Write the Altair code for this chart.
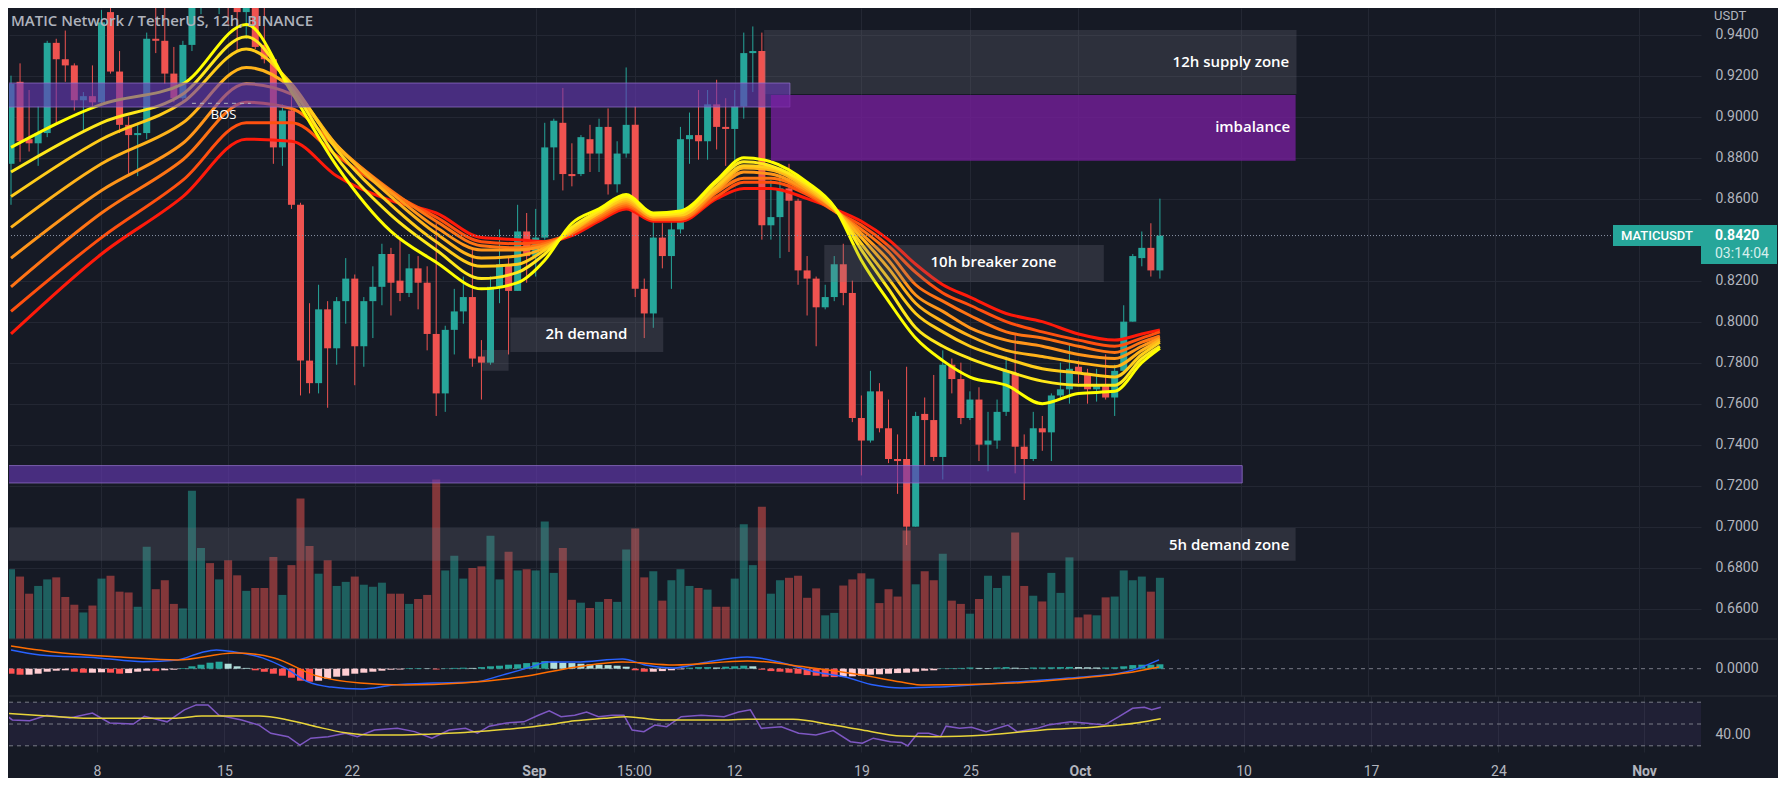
import json
import altair as alt
import pandas as pd

# ---------------- data (12h candles, first = 2022-08-03 00:00) ----------------
OPEN = [0.877, 0.917, 0.889, 0.887, 0.892, 0.936, 0.928, 0.925, 0.908, 0.910,
        0.907, 0.951, 0.922, 0.896, 0.891, 0.892, 0.938, 0.937, 0.921, 0.909,
        0.935, 0.968, 0.975, 0.962, 0.970, 0.958, 0.951, 0.958, 0.935, 0.928,
        0.885, 0.903, 0.857, 0.781, 0.770, 0.806, 0.787, 0.810, 0.821, 0.788,
        0.810, 0.817, 0.833, 0.820, 0.814, 0.826, 0.819, 0.794, 0.765, 0.796,
        0.805, 0.812, 0.783, 0.780, 0.817, 0.828, 0.815, 0.844, 0.832, 0.841,
        0.885, 0.897, 0.872, 0.872, 0.889, 0.882, 0.895, 0.867, 0.882, 0.896,
        0.816, 0.804, 0.841, 0.832, 0.845, 0.889, 0.891, 0.888, 0.906, 0.895,
        0.894, 0.905, 0.931, 0.932, 0.847, 0.851, 0.865, 0.859, 0.825, 0.821,
        0.807, 0.812, 0.828, 0.814, 0.753, 0.742, 0.766, 0.748, 0.733, 0.733,
        0.700, 0.755, 0.752, 0.734, 0.779, 0.772, 0.753, 0.762, 0.740, 0.742,
        0.756, 0.775, 0.739, 0.733, 0.748, 0.746, 0.764, 0.767, 0.778, 0.775,
        0.767, 0.769, 0.763, 0.776, 0.800, 0.831, 0.836, 0.825]
HIGH = [0.920, 0.926, 0.913, 0.905, 0.937, 0.938, 0.942, 0.926, 0.912, 0.925,
        0.952, 0.953, 0.932, 0.900, 0.897, 0.941, 0.953, 0.962, 0.934, 0.937,
        0.975, 0.985, 0.990, 0.980, 0.978, 0.966, 0.962, 0.968, 0.955, 0.929,
        0.906, 0.910, 0.858, 0.809, 0.818, 0.810, 0.812, 0.831, 0.823, 0.812,
        0.827, 0.838, 0.836, 0.840, 0.833, 0.832, 0.827, 0.848, 0.798, 0.816,
        0.822, 0.835, 0.791, 0.822, 0.845, 0.832, 0.857, 0.853, 0.855, 0.897,
        0.899, 0.914, 0.887, 0.891, 0.896, 0.899, 0.904, 0.888, 0.924, 0.905,
        0.821, 0.852, 0.848, 0.850, 0.895, 0.902, 0.913, 0.913, 0.918, 0.909,
        0.913, 0.941, 0.944, 0.941, 0.869, 0.874, 0.877, 0.860, 0.832, 0.822,
        0.818, 0.832, 0.838, 0.820, 0.764, 0.776, 0.770, 0.762, 0.745, 0.778,
        0.756, 0.763, 0.774, 0.786, 0.782, 0.780, 0.766, 0.768, 0.756, 0.762,
        0.783, 0.794, 0.745, 0.756, 0.754, 0.765, 0.780, 0.789, 0.781, 0.777,
        0.777, 0.784, 0.779, 0.808, 0.833, 0.844, 0.848, 0.860]
LOW = [0.857, 0.878, 0.883, 0.876, 0.890, 0.897, 0.917, 0.903, 0.893, 0.905,
       0.906, 0.921, 0.892, 0.871, 0.871, 0.889, 0.931, 0.916, 0.907, 0.907,
       0.932, 0.950, 0.955, 0.950, 0.945, 0.932, 0.938, 0.933, 0.926, 0.877,
       0.876, 0.855, 0.764, 0.765, 0.765, 0.758, 0.779, 0.799, 0.769, 0.778,
       0.792, 0.808, 0.803, 0.810, 0.812, 0.806, 0.786, 0.754, 0.756, 0.784,
       0.799, 0.778, 0.762, 0.779, 0.809, 0.784, 0.815, 0.819, 0.822, 0.840,
       0.869, 0.864, 0.866, 0.871, 0.873, 0.873, 0.862, 0.863, 0.880, 0.812,
       0.792, 0.797, 0.826, 0.816, 0.843, 0.877, 0.879, 0.879, 0.884, 0.876,
       0.872, 0.899, 0.912, 0.840, 0.840, 0.831, 0.834, 0.818, 0.803, 0.788,
       0.806, 0.810, 0.808, 0.751, 0.725, 0.741, 0.746, 0.731, 0.716, 0.691,
       0.700, 0.730, 0.732, 0.723, 0.765, 0.750, 0.752, 0.732, 0.727, 0.738,
       0.754, 0.726, 0.713, 0.732, 0.737, 0.732, 0.763, 0.760, 0.770, 0.760,
       0.761, 0.762, 0.754, 0.776, 0.800, 0.827, 0.822, 0.821]
CLOSE = [0.916, 0.888, 0.887, 0.892, 0.936, 0.928, 0.925, 0.908, 0.910, 0.907,
         0.946, 0.922, 0.896, 0.891, 0.892, 0.938, 0.937, 0.921, 0.909, 0.935,
         0.968, 0.975, 0.962, 0.970, 0.958, 0.951, 0.958, 0.934, 0.928, 0.885,
         0.903, 0.857, 0.781, 0.770, 0.806, 0.787, 0.810, 0.821, 0.788, 0.810,
         0.817, 0.833, 0.819, 0.814, 0.826, 0.819, 0.794, 0.765, 0.796, 0.805,
         0.812, 0.782, 0.780, 0.817, 0.828, 0.815, 0.844, 0.832, 0.841, 0.885,
         0.898, 0.872, 0.871, 0.890, 0.882, 0.895, 0.867, 0.882, 0.896, 0.816,
         0.804, 0.841, 0.832, 0.845, 0.889, 0.891, 0.888, 0.906, 0.895, 0.894,
         0.905, 0.931, 0.932, 0.847, 0.851, 0.865, 0.859, 0.825, 0.821, 0.807,
         0.812, 0.828, 0.814, 0.753, 0.742, 0.766, 0.748, 0.733, 0.732, 0.700,
         0.754, 0.752, 0.734, 0.779, 0.772, 0.753, 0.762, 0.740, 0.742, 0.756,
         0.776, 0.739, 0.733, 0.748, 0.746, 0.764, 0.767, 0.777, 0.775, 0.767,
         0.769, 0.763, 0.776, 0.800, 0.832, 0.836, 0.825, 0.842]
VOLUME = [17.1, 15.3, 11.1, 13.0, 14.6, 15.1, 10.3, 8.4, 6.5, 8.2, 14.8, 15.5, 11.6, 11.4, 7.9, 22.6,
          12.2, 14.4, 8.6, 7.5, 36.3, 22.3,
          18.6, 14.6, 19.3, 15.6, 11.8, 12.5, 12.5, 20.1, 10.8, 18.1, 34.4, 22.8, 16.0, 19.3, 13.0,
          14.0, 15.3, 13.3, 12.8, 13.8, 11.1,
          11.1, 8.6, 9.8, 10.8, 39.1, 16.8, 20.4, 14.8, 17.4, 17.8, 25.3, 14.6, 21.4, 16.8, 17.1,
          16.8, 28.8, 16.2, 22.3, 9.6, 8.9,
          7.6, 9.1, 9.8, 9.1, 21.9, 27.1, 15.1, 16.6, 9.4, 14.4, 17.1, 13.0, 12.5, 12.1, 7.9, 7.9,
          14.8, 28.1, 18.1, 32.4, 11.1, 14.4,
          15.0, 15.5, 10.1, 12.4, 5.8, 6.4, 13.1, 14.6, 16.1, 14.8, 8.8, 12.2, 10.4, 26.6, 13.4,
          16.6, 14.4, 20.9, 9.4, 8.6, 6.2, 9.8,
          15.5, 12.5, 15.5, 26.1, 13.0, 10.6, 9.2, 16.2, 11.3, 20.0, 5.3, 6.0, 5.8, 10.2, 10.4,
          16.8, 14.4, 15.3, 11.6, 15.0]

# EMA ribbon (8 lines, fastest first), read at these candle indices
RIBBON_IDX = [0, 10, 19, 26, 31, 36, 42, 47, 52, 56, 59, 62, 65, 68, 71, 74, 78, 81, 84, 88,
              91, 94, 97, 100, 103, 106, 110, 114, 118, 122, 125, 127]
EMA1 = [0.885, 0.906, 0.916, 0.945, 0.912, 0.876, 0.844, 0.829, 0.816, 0.819, 0.830, 0.848, 0.855, 0.862,
        0.853, 0.854, 0.869, 0.880, 0.878, 0.868, 0.856, 0.830, 0.810, 0.792, 0.781, 0.773, 0.769, 0.760,
        0.765, 0.766, 0.780, 0.787]
EMA2 = [0.873, 0.897, 0.911, 0.939, 0.914, 0.880, 0.852, 0.835, 0.821, 0.824, 0.833, 0.846, 0.854, 0.861,
        0.852, 0.853, 0.868, 0.878, 0.876, 0.867, 0.856, 0.835, 0.816, 0.797, 0.788, 0.782, 0.776, 0.771,
        0.769, 0.769, 0.782, 0.788]
EMA3 = [0.861, 0.889, 0.907, 0.933, 0.916, 0.884, 0.857, 0.839, 0.827, 0.828, 0.835, 0.845, 0.853, 0.860,
        0.852, 0.852, 0.866, 0.876, 0.875, 0.866, 0.855, 0.838, 0.821, 0.804, 0.795, 0.788, 0.782, 0.777,
        0.775, 0.773, 0.784, 0.790]
EMA4 = [0.846, 0.877, 0.897, 0.924, 0.914, 0.886, 0.861, 0.843, 0.831, 0.832, 0.836, 0.844, 0.853, 0.859,
        0.851, 0.852, 0.865, 0.875, 0.874, 0.865, 0.855, 0.841, 0.826, 0.809, 0.800, 0.793, 0.786, 0.783,
        0.780, 0.778, 0.786, 0.791]
EMA5 = [0.831, 0.864, 0.887, 0.916, 0.911, 0.886, 0.863, 0.846, 0.835, 0.835, 0.837, 0.844, 0.852, 0.858,
        0.851, 0.851, 0.864, 0.873, 0.872, 0.864, 0.855, 0.843, 0.830, 0.813, 0.805, 0.797, 0.791, 0.788,
        0.784, 0.782, 0.788, 0.792]
EMA6 = [0.817, 0.853, 0.879, 0.907, 0.904, 0.885, 0.864, 0.849, 0.837, 0.836, 0.838, 0.843, 0.851, 0.857,
        0.850, 0.850, 0.863, 0.870, 0.870, 0.863, 0.854, 0.845, 0.834, 0.818, 0.810, 0.803, 0.795, 0.792,
        0.788, 0.785, 0.790, 0.793]
EMA7 = [0.805, 0.841, 0.869, 0.897, 0.897, 0.881, 0.863, 0.851, 0.839, 0.838, 0.839, 0.843, 0.850, 0.856,
        0.850, 0.850, 0.861, 0.868, 0.868, 0.862, 0.854, 0.847, 0.837, 0.824, 0.814, 0.808, 0.800, 0.795,
        0.791, 0.788, 0.792, 0.795]
EMA8 = [0.794, 0.833, 0.861, 0.889, 0.888, 0.871, 0.859, 0.853, 0.841, 0.840, 0.839, 0.842, 0.849, 0.855,
        0.849, 0.849, 0.860, 0.865, 0.865, 0.860, 0.855, 0.849, 0.840, 0.828, 0.818, 0.812, 0.804, 0.800,
        0.794, 0.791, 0.794, 0.796]

# MACD pane
MACD_IDX = [0, 3.2, 9.6, 14.6, 18.4, 20.9, 22.7, 24.7, 27.8, 30.3, 32.9, 35.4, 38.6, 42.3, 46.7, 51.2,
            54.3, 57.5, 59.3, 62.5, 67.6, 70.1, 73.3, 76.4, 81.4, 85.3, 89, 92.2, 95.4, 98.4, 102.1,
            110.8, 116.9, 123.2, 126.9]
MACD_VAL = [0.0094, 0.0069, 0.0054, 0.0035, 0.0044, 0.0079, 0.0094, 0.0084, 0.0054, 0.0004, -0.0067,
            -0.0092, -0.0102, -0.0082, -0.0072, -0.0067, -0.0032, 0.0009, 0.0034, 0.0034, 0.0049,
            0.0019, 0.0004, 0.0029, 0.0059, 0.0029, -0.0017, -0.0042, -0.0082, -0.0097, -0.0092,
            -0.0067, -0.0047, -0.0017, 0.0044]
SIGNAL_IDX = [0, 5.7, 12.1, 18.4, 24.7, 29.1, 33.5, 38.6, 43.6, 49.9, 56.3, 62.5, 67.6, 73.3, 81.4,
              87.8, 94.1, 98.4, 100.9, 110.8, 116.9, 123.2, 126.9]
SIGNAL_VAL = [0.0114, 0.0079, 0.0059, 0.0044, 0.0079, 0.0054, -0.0032, -0.0072, -0.0082, -0.0072,
              -0.0042, 0.0009, 0.0034, 0.0019, 0.0039, 0.0009, -0.0032, -0.0067, -0.0082, -0.0072,
              -0.0052, -0.0022, 0.0009]
HIST = [-0.0025, -0.003, -0.003, -0.0025, -0.0015, -0.001, -0.0008, -0.0015, -0.002, -0.002,
        -0.0018, -0.002, -0.0025, -0.0022, -0.0015, -0.001, -0.0012, -0.0008, -0.0005, 0.0003,
        0.0012, 0.002, 0.003, 0.0035, 0.0025, 0.0012, 0.0004, -0.0008, -0.0015, -0.0025,
        -0.0035, -0.0045, -0.006, -0.0065, -0.006, -0.005, -0.004, -0.0035, -0.0025, -0.002,
        -0.0015, -0.001, -0.0005, -0.0004, 0.0003, 0.0003, 0.0002, -0.0004, 0.0002, 0.0004,
        0.0005, 0.0004, 0.0008, 0.0012, 0.0015, 0.002, 0.0022, 0.0028, 0.0032, 0.0038,
        0.0035, 0.003, 0.0028, 0.0025, 0.0022, 0.002, 0.0018, 0.0015, 0.001, -0.0008,
        -0.0015, -0.0015, -0.0012, -0.0008, -0.0003, 0.0005, 0.0008, 0.0008, 0.0006, 0.001,
        0.0012, 0.0015, 0.0012, -0.0005, -0.0012, -0.0015, -0.002, -0.0025, -0.0032, -0.0035,
        -0.004, -0.0042, -0.004, -0.0038, -0.0035, -0.003, -0.0028, -0.0025, -0.0022, -0.002,
        -0.0015, -0.001, -0.0008, 0.0002, 0.0003, 0.0004, 0.0006, 0.0004, 0.0003, 0.0006,
        0.0008, 0.0005, 0.0003, 0.0006, 0.0006, 0.0007, 0.0008, 0.0009, 0.0008, 0.0007,
        0.0006, 0.0006, 0.0007, 0.0012, 0.0018, 0.002, 0.002, 0.0022]

# RSI pane
RSI_IDX = [0, 0.7, 2.6, 4.5, 7, 9.5, 11.4, 14, 15.2, 17.7, 19.6, 20.9, 22.2, 23.4, 25.9, 27.8, 29.1,
           31, 32.3, 33.5, 35.4, 37.3, 38.6, 40.5, 43, 44.9, 46.8, 48.7, 50.5, 51.8, 53.1, 55, 56.9,
           58.5, 59.7, 61, 62.5, 63.8, 65.1, 66.6, 67.9, 68.8, 70.1, 71.3, 72.6, 74.2, 76.4, 78.9,
           80.5, 81.8, 83, 85.2, 87.1, 89, 90.9, 92.8, 94.1, 95.3, 97.2, 98.4, 99.1, 100.2, 101.4,
           102.7, 103.3, 104.8, 106.1, 107.7, 110.1, 111.1, 113.3, 114.5, 117, 118.8, 120.7, 122.3,
           123.8, 125.1, 125.9, 126.9]
RSI_VAL = [58, 53.7, 53, 58, 55.5, 60, 51, 50, 57, 52, 63, 67.5, 67.5, 58, 53.7, 49, 41.5, 38.4, 30.7,
           37, 38.4, 41.5, 38.4, 44.5, 46, 43, 37, 44.5, 46, 41.5, 48, 51, 52, 58, 62, 56.7, 58, 61,
           56.7, 58, 58, 44.5, 43, 49, 47.5, 56.7, 58, 56.7, 61, 63, 46, 47.5, 41.5, 40, 44, 33.8,
           32.3, 37, 33.8, 33, 30, 41.5, 41.5, 38.4, 48, 46, 47, 43, 49, 43, 46, 49, 52, 50.6, 49,
           56.7, 64.4, 65.3, 63, 65.3]
RSI_MA_IDX = [0, 5.8, 8.9, 15.2, 18.4, 21.5, 27.8, 31, 34.1, 37.3, 40.5, 43.6, 46.8, 49.9, 53.1, 56.2,
              59.4, 62.5, 65.7, 68.2, 72, 78.3, 81.5, 86.5, 90.9, 94.1, 98.4, 102.1, 107.7, 113.9,
              120.1, 124.4, 126.9]
RSI_MA_VAL = [59.8, 56.7, 55.2, 55.2, 55.2, 57.3, 57.3, 53.7, 47.5, 42, 39.9, 39.9, 40.8, 42, 43.9, 46,
              49, 53, 55.2, 56.7, 53.7, 53.7, 54.3, 54.3, 49, 44.5, 39, 38.4, 39.9, 44.5, 47.5, 51.2,
              54.9]

# drawn zones (candle index span, price span)
ZONE_NAME = ["bos", "supply12h", "imbalance", "breaker10h", "demand2h_label", "demand2h",
             "lower_band", "demand5h"]
ZONE_KIND = ["purple", "gray", "imbalance", "gray", "gray", "gray", "purple", "gray"]
ZONE_FROM = [-1, 83.25, 84.0, 89.9, 55.2, 52.1, -1, -1]
ZONE_TO = [86.1, 142.1, 142.0, 120.8, 72.1, 55.0, 136.1, 142.0]
ZONE_TOP = [0.9164, 0.9423, 0.9106, 0.8374, 0.8020, 0.7862, 0.7298, 0.6994]
ZONE_BOTTOM = [0.9047, 0.9110, 0.8785, 0.8194, 0.7852, 0.7761, 0.7213, 0.6834]

LABEL_TEXT = ["12h supply zone", "imbalance", "5h demand zone", "10h breaker zone", "2h demand", "BOS"]
LABEL_IDX = [141.3, 141.4, 141.3, 108.6, 63.6, 23.5]
LABEL_PRICE = [0.9267, 0.8950, 0.6910, 0.8291, 0.7940, 0.9009]
LABEL_ALIGN = ["right", "right", "right", "center", "center", "center"]

BOS_FROM, BOS_TO, BOS_PRICE = 20.0, 26.5, 0.9065
LAST_PRICE = 0.842
COUNTDOWN = "03:14:04"

TICK_IDX = [10, 24, 38, 58, 69, 80, 94, 106, 118, 136, 150, 164, 180]
TICK_LABEL = ["8", "15", "22", "Sep", "15:00", "12", "19", "25", "Oct", "10", "17", "24", "Nov"]
# 0.8400 is hidden behind the last-price label in the reference
PRICE_TICKS = [0.66, 0.68, 0.70, 0.72, 0.74, 0.76, 0.78, 0.80, 0.82, 0.86, 0.88, 0.90, 0.92, 0.94]

TITLE = "MATIC Network / TetherUS, 12h, BINANCE"

# ---------------- styling ----------------
BG = "#161a25"
GRID = "#232733"
LBL = "#b2b5be"
FONT = "Roboto"
TFONT = "Open Sans"
UP, DOWN = "#26a69a", "#ef5350"
RIBBON_COLORS = ["#ffff00", "#ffe81a", "#ffcc1a", "#ffb31a", "#ff951a", "#ff7314", "#ff500f", "#ff1a0a"]

W = 1692
H_PRICE, H_MACD, H_RSI = 631, 57, 56
X_DOM = [0.33, 186.26]
PRICE_DOM = [0.6452, 0.9530]
VOL_DOM = [0, 154.6]
MACD_DOM = [-0.01365, 0.01485]
RSI_DOM = [24.31, 75.69]

# ---------------- frames ----------------
N = len(CLOSE)
candles = pd.DataFrame({"idx": list(range(N)), "open": OPEN, "high": HIGH, "low": LOW,
                        "close": CLOSE, "volume": VOLUME})
candles["dir"] = ["up" if c >= o else "down" for o, c in zip(OPEN, CLOSE)]

emas = [EMA1, EMA2, EMA3, EMA4, EMA5, EMA6, EMA7, EMA8]

zones = pd.DataFrame({"name": ZONE_NAME, "zkind": ZONE_KIND, "x1": ZONE_FROM, "x2": ZONE_TO,
                      "top": ZONE_TOP, "bottom": ZONE_BOTTOM})
labels = pd.DataFrame({"text": LABEL_TEXT, "idx": LABEL_IDX, "price": LABEL_PRICE, "al": LABEL_ALIGN})

hcol = []
prev = 0.0
for h in HIST:
    if h >= 0:
        hcol.append("#26a69a" if h >= prev else "#b2dfdb")
    else:
        hcol.append("#ff5252" if h < prev else "#ffcdd2")
    prev = h
hist = pd.DataFrame({"idx": list(range(N)), "h": HIST, "c": hcol})
macd = pd.DataFrame({"idx": MACD_IDX, "v": MACD_VAL})
sig = pd.DataFrame({"idx": SIGNAL_IDX, "v": SIGNAL_VAL})
rsi = pd.DataFrame({"idx": RSI_IDX, "v": RSI_VAL})
rsima = pd.DataFrame({"idx": RSI_MA_IDX, "v": RSI_MA_VAL})

# ---------------- scales / axes ----------------
XS = alt.Scale(domain=X_DOM, nice=False, zero=False)
X_HID = alt.Axis(values=TICK_IDX, labels=False, ticks=False, domain=False, grid=True,
                 gridColor=GRID, title=None)
label_expr = "%s[indexof(%s, datum.value)]" % (json.dumps(TICK_LABEL), json.dumps(TICK_IDX))
X_TIME = alt.Axis(values=TICK_IDX, labelExpr=label_expr, ticks=False, domain=False, grid=True,
                  gridColor=GRID, title=None, labelColor=LBL, labelFont=FONT, labelFontSize=14,
                  labelPadding=12, labelOverlap=False, labelFlush=False,
                  labelFontWeight={"condition": {"test": "datum.value == 58 || datum.value == 118 || datum.value == 180",
                                                 "value": "bold"}, "value": "normal"})
PS = alt.Scale(domain=PRICE_DOM, nice=False, zero=False)
P_AX = alt.Axis(orient="right", values=PRICE_TICKS, format=".4f", ticks=False, domain=False,
                grid=True, gridColor=GRID, title=None, labelColor=LBL, labelFont=FONT,
                labelFontSize=14, labelPadding=14)


def xq(field, axis=X_HID):
    return alt.X(f"{field}:Q", scale=XS, axis=axis)


def yp(field):
    return alt.Y(f"{field}:Q", scale=PS, axis=P_AX)


dir_color = alt.Color("dir:N", scale=alt.Scale(domain=["up", "down"], range=[UP, DOWN]), legend=None)

# ---------------- price panel ----------------
volume = alt.Chart(candles).mark_bar(size=8, opacity=0.5, clip=True).encode(
    x=xq("idx"),
    y=alt.Y("volume:Q", scale=alt.Scale(domain=VOL_DOM, nice=False, zero=True), axis=None),
    color=dir_color)

wicks = alt.Chart(candles).mark_rule(clip=True, strokeWidth=1).encode(
    x=xq("idx"), y=yp("low"), y2="high", color=dir_color)
bodies = alt.Chart(candles).mark_bar(size=7, clip=True).encode(
    x=xq("idx"), y=yp("open"), y2="close", color=dir_color)

ribbon_layers = []
for k in reversed(range(8)):
    df = pd.DataFrame({"idx": RIBBON_IDX, "price": emas[k]})
    ribbon_layers.append(alt.Chart(df).mark_line(color=RIBBON_COLORS[k], strokeWidth=3,
                                                  interpolate="monotone", clip=True).encode(
        x=xq("idx"), y=yp("price")))

zone_gray = alt.Chart(zones[zones["zkind"] == "gray"]).mark_rect(
    fill="#787b86", fillOpacity=0.24, clip=True).encode(
    x=xq("x1"), x2="x2", y=yp("top"), y2="bottom")
zone_purple = alt.Chart(zones[zones["zkind"] == "purple"]).mark_rect(
    fill="#673ab7", fillOpacity=0.62, stroke="#9575cd", strokeOpacity=0.7, strokeWidth=1,
    clip=True).encode(x=xq("x1"), x2="x2", y=yp("top"), y2="bottom")
zone_imb = alt.Chart(zones[zones["zkind"] == "imbalance"]).mark_rect(
    fill="#7b1fa2", fillOpacity=0.75, clip=True).encode(
    x=xq("x1"), x2="x2", y=yp("top"), y2="bottom")

bos_line = alt.Chart(pd.DataFrame({"x1": [BOS_FROM], "x2": [BOS_TO], "price": [BOS_PRICE]})).mark_rule(
    color="#b2b5be", strokeDash=[4, 4], strokeWidth=1).encode(x=xq("x1"), x2="x2", y=yp("price"))

txt_right = alt.Chart(labels[labels["al"] == "right"]).mark_text(
    align="right", baseline="middle", color="#ffffff", font=TFONT, fontSize=15, fontWeight=600).encode(
    x=xq("idx"), y=yp("price"), text="text:N")
txt_center = alt.Chart(labels[(labels["al"] == "center") & (labels["text"] != "BOS")]).mark_text(
    align="center", baseline="middle", color="#ffffff", font=TFONT, fontSize=15, fontWeight=600).encode(
    x=xq("idx"), y=yp("price"), text="text:N")
txt_bos = alt.Chart(labels[labels["text"] == "BOS"]).mark_text(
    align="center", baseline="middle", color="#ffffff", font=TFONT, fontSize=13).encode(
    x=xq("idx"), y=yp("price"), text="text:N")

last = pd.DataFrame({"price": [LAST_PRICE], "top": [LAST_PRICE + 0.0051], "bottom": [LAST_PRICE - 0.0051],
                     "bottom2": [LAST_PRICE - 0.0139], "cd_price": [LAST_PRICE - 0.0089],
                     "sym": ["MATICUSDT"], "lbl": [f"{LAST_PRICE:.4f}"], "cd": [COUNTDOWN]})
price_line = alt.Chart(last).mark_rule(color="#8a93a6", strokeDash=[1, 2], strokeWidth=1).encode(
    y=yp("price"))
sym_box = alt.Chart(last).mark_rect(color=UP).encode(
    x=alt.value(1604), x2=alt.value(1692), y=yp("top"), y2="bottom")
sym_txt = alt.Chart(last).mark_text(align="center", baseline="middle", color="#ffffff", font=FONT,
                                    fontSize=13, fontWeight=500).encode(
    x=alt.value(1648), y=yp("price"), text="sym:N")
axis_box = alt.Chart(last).mark_rect(color=UP).encode(
    x=alt.value(1692), x2=alt.value(1768), y=yp("top"), y2="bottom2")
axis_txt = alt.Chart(last).mark_text(align="left", baseline="middle", color="#ffffff", font=FONT,
                                     fontSize=14, fontWeight="bold").encode(
    x=alt.value(1706), y=yp("price"), text="lbl:N")
cd_txt = alt.Chart(last).mark_text(align="left", baseline="middle", color="#d6efec", font=FONT,
                                   fontSize=14).encode(
    x=alt.value(1706), y=yp("cd_price"), text="cd:N")

one = pd.DataFrame({"t": [TITLE], "u": ["USDT"]})
title_txt = alt.Chart(one).mark_text(align="left", baseline="middle", color="#aeb2bc", font=TFONT,
                                     fontSize=15, fontWeight=600).encode(
    x=alt.value(2), y=alt.value(13), text="t:N")
usdt_txt = alt.Chart(one).mark_text(align="left", baseline="middle", color=LBL, font=FONT,
                                    fontSize=13).encode(
    x=alt.value(1705), y=alt.value(8), text="u:N")

price_layer = alt.layer(
    wicks, bodies, *ribbon_layers, zone_gray, zone_purple, zone_imb, bos_line,
    txt_right, txt_center, txt_bos, price_line, sym_box, sym_txt, axis_box, axis_txt, cd_txt,
    title_txt, usdt_txt)
price_panel = alt.layer(volume, price_layer).resolve_scale(y="independent").properties(
    width=W, height=H_PRICE)

# ---------------- MACD panel ----------------
MS = alt.Scale(domain=MACD_DOM, nice=False, zero=False)
M_AX = alt.Axis(orient="right", values=[0], format=".4f", ticks=False, domain=False, grid=False,
                title=None, labelColor=LBL, labelFont=FONT, labelFontSize=14, labelPadding=14)


def ym(field):
    return alt.Y(f"{field}:Q", scale=MS, axis=M_AX)


sep = pd.DataFrame({"a": [0]})
m_sep = alt.Chart(sep).mark_rule(color="#2a2e39", strokeWidth=1).encode(
    x=alt.value(0), x2=alt.value(1768), y=alt.value(0))
m_zero = alt.Chart(pd.DataFrame({"z": [0.0]})).mark_rule(color="#787b86", strokeDash=[4, 4]).encode(
    y=ym("z"))
m_hist = alt.Chart(hist).mark_bar(size=7, clip=True).encode(
    x=xq("idx"), y=ym("h"), color=alt.Color("c:N", scale=None))
m_line = alt.Chart(macd).mark_line(color="#2962ff", strokeWidth=1.5, interpolate="monotone",
                                   clip=True).encode(x=xq("idx"), y=ym("v"))
s_line = alt.Chart(sig).mark_line(color="#ff6d00", strokeWidth=1.5, interpolate="monotone",
                                  clip=True).encode(x=xq("idx"), y=ym("v"))
macd_panel = alt.layer(m_zero, m_hist, m_line, s_line, m_sep).properties(width=W, height=H_MACD)

# ---------------- RSI panel ----------------
RS = alt.Scale(domain=RSI_DOM, nice=False, zero=False)
R_AX = alt.Axis(orient="right", values=[40], format=".2f", ticks=False, domain=False, grid=False,
                title=None, labelColor=LBL, labelFont=FONT, labelFontSize=14, labelPadding=14)


def yr(field):
    return alt.Y(f"{field}:Q", scale=RS, axis=R_AX)


r_band = alt.Chart(pd.DataFrame({"hi": [70], "lo": [30]})).mark_rect(
    color="#7e57c2", opacity=0.1).encode(x=alt.value(0), x2=alt.value(W), y=yr("hi"), y2="lo")
r_lvls = alt.Chart(pd.DataFrame({"lv": [70, 50, 30]})).mark_rule(
    color="#787b86", strokeDash=[4, 4]).encode(y=yr("lv"))
r_line = alt.Chart(rsi).mark_line(color="#7e57c2", strokeWidth=1.5, clip=True).encode(
    x=xq("idx", X_TIME), y=yr("v"))
r_ma = alt.Chart(rsima).mark_line(color="#e8d43a", strokeWidth=1.5, interpolate="monotone",
                                  clip=True).encode(x=xq("idx", X_TIME), y=yr("v"))
r_sep = alt.Chart(sep).mark_rule(color="#2a2e39", strokeWidth=1).encode(
    x=alt.value(0), x2=alt.value(1768), y=alt.value(0))
rsi_panel = alt.layer(r_band, r_lvls, r_line, r_ma, r_sep).properties(width=W, height=H_RSI)

chart = alt.vconcat(price_panel, macd_panel, rsi_panel, spacing=0, bounds="flush").resolve_scale(
    x="independent", y="independent", color="independent").properties(
    background=BG, padding={"left": 0, "top": 0, "right": 0, "bottom": 0}).configure_view(
    stroke=None)

chart.save("out.html", embed_options={"renderer": "svg", "actions": False})
